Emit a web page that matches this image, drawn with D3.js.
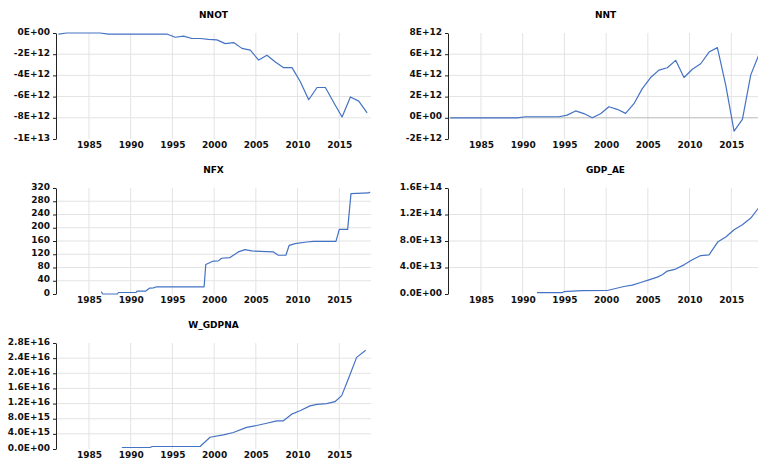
<!DOCTYPE html>
<html>
<head>
<meta charset="utf-8">
<script src="https://cdn.jsdelivr.net/npm/d3@7"></script>
<style>
  body { margin: 0; background: #fff; }
  svg { display: block; }
  .title { font-family: "DejaVu Sans", sans-serif; font-size: 9px; font-weight: bold; fill: #000; }
  .axis text { font-family: "DejaVu Sans", sans-serif; font-size: 9px; font-weight: bold; fill: #111; }
</style>
</head>
<body>
<div id="chart"></div>
<script>
// --- DATA ---
// annual series, observations stamped in May of each year
const annualYears = d3.range(1981, 2019);
const nnotValues = [ // E+12
  -0.1, 0, 0, 0, 0, 0, -0.1, -0.1, -0.1, -0.1, -0.1, -0.1, -0.1, -0.1,
  -0.4, -0.3, -0.52, -0.52, -0.6, -0.65, -1.0, -0.9, -1.45, -1.62,
  -2.55, -2.1, -2.73, -3.27, -3.27, -4.6, -6.3, -5.14, -5.14, -6.55,
  -7.92, -6.03, -6.43, -7.54
];
const nntValues = [ // E+12
  0, 0, 0, 0, 0, 0, 0, 0, 0, 0.1, 0.1, 0.1, 0.1, 0.1,
  0.25, 0.65, 0.4, 0.0, 0.38, 1.04, 0.8, 0.42, 1.33, 2.75,
  3.8, 4.5, 4.72, 5.42, 3.8, 4.58, 5.1, 6.2, 6.62, 3.09,
  -1.26, -0.15, 4.05, 6.0
];

// irregular series (decimal year, value)
const nfxDates = [1986.46, 1986.66, 1988.41, 1988.53, 1990.65, 1990.74, 1991.77, 1992.25, 1992.72, 1993.13,
  1998.8, 1999.0, 1999.91, 2000.5, 2000.9, 2001.9, 2002.9, 2003.7, 2004.5, 2007.1, 2007.7, 2008.6,
  2009.0, 2009.7, 2011.1, 2011.9, 2014.6, 2015.0, 2016.0, 2016.4, 2018.5, 2018.7];
const nfxValues = [7, 0, 0, 4.5, 4.5, 8.5, 8.5, 17.6, 18.5, 21.8,
  21.8, 89, 99.4, 100, 108, 110, 127, 134, 130, 127, 117, 117,
  147, 152, 157, 159, 159, 195, 195, 303, 305, 308];

const gdpDates = [1991.72, 1994.72, 1994.93, 1997.12, 2000.13, 2001.13, 2002.13, 2003.13, 2004.14, 2005.13,
  2006.13, 2006.73, 2007.33, 2008.34, 2009.33, 2010.33, 2011.34, 2012.33, 2013.41, 2014.34,
  2015.33, 2016.33, 2017.34, 2018.33];
const gdpValues = [0.2, 0.2, 0.35, 0.5, 0.53, 0.83, 1.13, 1.34, 1.74, 2.14,
  2.55, 2.9, 3.46, 3.76, 4.4, 5.16, 5.8, 5.9, 7.9, 8.6,
  9.7, 10.45, 11.46, 13.1]; // E+13

const wDates = [1988.94, 1992.33, 1992.57, 1998.32, 1999.51, 2001.1, 2002.3, 2003.9, 2005.1, 2006.3,
  2007.5, 2008.3, 2009.3, 2010.29, 2011.49, 2012.29, 2013.49, 2014.48, 2015.29, 2016.08,
  2017.08, 2018.16];
const wValues = [0.4, 0.4, 0.66, 0.66, 3.1, 3.74, 4.35, 5.7, 6.2, 6.8,
  7.44, 7.44, 9.2, 10.1, 11.4, 11.8, 12.0, 12.5, 14.1, 18.5,
  24.2, 26.1]; // E+15

// tick labels
const xTicks = [1985, 1990, 1995, 2000, 2005, 2010, 2015];
const nnotTicks = [0, -2e12, -4e12, -6e12, -8e12, -1e13];
const nntTicks = [-2e12, 0, 2e12, 4e12, 6e12, 8e12];
const nfxTicks = [0, 40, 80, 120, 160, 200, 240, 280, 320];
const gdpTicks = [0, 4e13, 8e13, 1.2e14, 1.6e14];
const wTicks = [0, 4e15, 8e15, 1.2e16, 1.6e16, 2.0e16, 2.4e16, 2.8e16];

// --- FORMATS ---
function expFormat(dec) {
  return v => {
    if (v === 0) return (0).toFixed(dec) + "E+00";
    let e = Math.floor(Math.log10(Math.abs(v)) + 1e-9);
    let m = +(v / Math.pow(10, e)).toFixed(dec);
    if (Math.abs(m) >= 10) { m = m / 10; e += 1; }
    return m.toFixed(dec) + "E" + (e >= 0 ? "+" : "-") + String(Math.abs(e)).padStart(2, "0");
  };
}

const panels = [
  { title: "NNOT", x: annualYears.map(y => y + 4 / 12), y: nnotValues.map(v => v * 1e12),
    ticks: nnotTicks, fmt: expFormat(0), col: 0, row: 0 },
  { title: "NNT", x: annualYears.map(y => y + 4 / 12), y: nntValues.map(v => v * 1e12),
    ticks: nntTicks, fmt: expFormat(0), col: 1, row: 0 },
  { title: "NFX", x: nfxDates, y: nfxValues,
    ticks: nfxTicks, fmt: d3.format("d"), col: 0, row: 1 },
  { title: "GDP_AE", x: gdpDates, y: gdpValues.map(v => v * 1e13),
    ticks: gdpTicks, fmt: expFormat(1), col: 1, row: 1 },
  { title: "W_GDPNA", x: wDates, y: wValues.map(v => v * 1e15),
    ticks: wTicks, fmt: expFormat(1), col: 0, row: 2 }
];

// --- LAYOUT ---
const W = 758, H = 461;
const colLeft = [56, 448], rowTop = [33, 188, 343];
const pw = 315, ph = 106;

const svg = d3.select("#chart").append("svg")
  .attr("width", W).attr("height", H);

panels.forEach((p, i) => {
  const g = svg.append("g")
    .attr("transform", `translate(${colLeft[p.col]},${rowTop[p.row]})`);

  const x = d3.scaleLinear().domain([1981.05, 2018.8]).range([0, pw]);
  const y = d3.scaleLinear().domain(d3.extent(p.ticks)).range([ph, 0]);

  // vertical grid
  g.selectAll(".vgrid").data(xTicks).enter().append("line")
    .attr("x1", d => x(d)).attr("x2", d => x(d))
    .attr("y1", 0).attr("y2", ph)
    .attr("stroke", "#e3e3e3").attr("stroke-width", 1);

  // horizontal grid (interior ticks only)
  const [lo, hi] = d3.extent(p.ticks);
  g.selectAll(".hgrid").data(p.ticks.filter(t => t !== lo && t !== hi)).enter().append("line")
    .attr("x1", 0).attr("x2", pw)
    .attr("y1", d => y(d)).attr("y2", d => y(d))
    .attr("stroke", d => d === 0 ? "#b8b8b8" : "#e3e3e3").attr("stroke-width", 1);

  // x axis labels
  const xAxis = g.append("g").attr("class", "axis")
    .attr("transform", `translate(0,${ph})`)
    .call(d3.axisBottom(x).tickValues(xTicks).tickFormat(d3.format("d")).tickSize(0).tickPadding(3));
  xAxis.select(".domain").remove();

  // y axis
  const yAxis = g.append("g").attr("class", "axis")
    .call(d3.axisLeft(y).tickValues(p.ticks).tickFormat(p.fmt).tickSize(3).tickPadding(3).tickSizeOuter(0));
  yAxis.select(".domain").attr("stroke", "#222");
  yAxis.selectAll(".tick line").attr("stroke", "#222");
  yAxis.selectAll(".tick text").attr("dy", "0.12em");

  // line
  const pts = p.x.map((d, j) => [d, p.y[j]]);
  g.append("path")
    .datum(pts)
    .attr("fill", "none")
    .attr("stroke", "#4472c4")
    .attr("stroke-width", 1.2)
    .attr("stroke-linejoin", "round")
    .attr("d", d3.line().x(d => x(d[0])).y(d => y(d[1])));

  // title
  g.append("text").attr("class", "title")
    .attr("x", pw / 2).attr("y", -15)
    .attr("text-anchor", "middle")
    .text(p.title);
});
</script>
</body>
</html>
